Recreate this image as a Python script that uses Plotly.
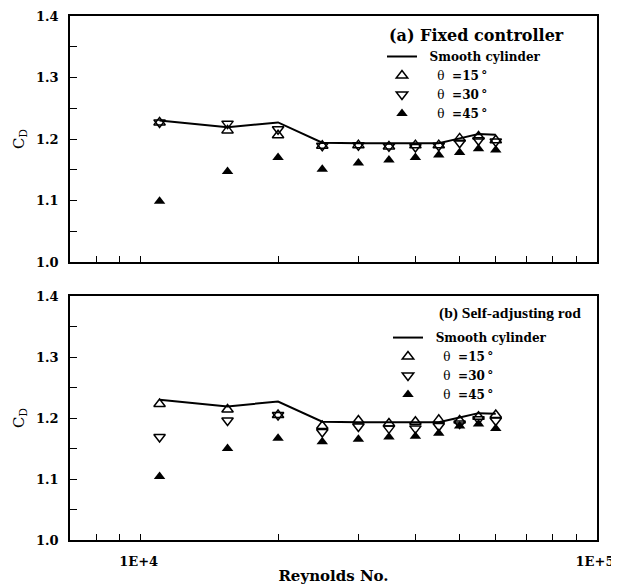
import math
import plotly.graph_objects as go
from plotly.subplots import make_subplots

# ---------------- data ----------------
reynolds = [11000, 15500, 20000, 25000, 30000, 35000, 40000, 45000, 50000, 55000, 60000]
smooth_cd = [1.230, 1.219, 1.227, 1.194, 1.193, 1.193, 1.192, 1.193, 1.201, 1.208, 1.207]

# (a) Fixed controller
fixed_15 = [1.227, 1.214, 1.206, 1.189, 1.190, 1.188, 1.190, 1.190, 1.201, 1.204, 1.198]
fixed_30 = [1.227, 1.225, 1.216, 1.189, 1.190, 1.188, 1.187, 1.189, 1.194, 1.198, 1.196]
fixed_45 = [1.099, 1.147, 1.170, 1.151, 1.161, 1.166, 1.170, 1.174, 1.178, 1.184, 1.182]

# (b) Self-adjusting rod
self_15 = [1.223, 1.214, 1.205, 1.187, 1.196, 1.191, 1.194, 1.197, 1.196, 1.202, 1.205]
self_30 = [1.169, 1.196, 1.205, 1.177, 1.186, 1.183, 1.183, 1.187, 1.191, 1.198, 1.196]
self_45 = [1.104, 1.150, 1.167, 1.161, 1.165, 1.169, 1.170, 1.175, 1.187, 1.190, 1.183]

x_tick_vals = [8000, 9000, 10000, 20000, 30000, 40000, 50000, 60000, 70000, 80000, 90000, 100000]
x_tick_text = ["", "", "1E+4", "", "", "", "", "", "", "", "", "1E+5"]
y_tick_vals = [1.0, 1.05, 1.1, 1.15, 1.2, 1.25, 1.3, 1.35, 1.4]
y_tick_text = ["1.0", "", "1.1", "", "1.2", "", "1.3", "", "1.4"]

panel_titles = ["(a) Fixed controller", "(b) Self-adjusting rod"]
angles = ["15", "30", "45"]

SERIF = "DejaVu Serif"
NB = "\u00a0"

smooth_label = NB * 2 + "<b>Smooth cylinder</b>"
angle_labels = [NB * 4 + "θ" + NB * 2 + "<b>=" + a + "\u2009°</b>" for a in angles]

fig = make_subplots(rows=2, cols=1, vertical_spacing=0.065)

panels = [(fixed_15, fixed_30, fixed_45), (self_15, self_30, self_45)]
for i, (s15, s30, s45) in enumerate(panels):
    row = i + 1
    leg = "legend" if i == 0 else "legend2"
    fig.add_trace(go.Scatter(x=reynolds, y=smooth_cd, mode="lines",
                             line=dict(color="black", width=2),
                             name=smooth_label, legend=leg), row=row, col=1)
    fig.add_trace(go.Scatter(x=reynolds, y=s15, mode="markers",
                             marker=dict(symbol="triangle-up-open", size=10, color="black",
                                         line=dict(width=1.5, color="black")),
                             name=angle_labels[0], legend=leg), row=row, col=1)
    fig.add_trace(go.Scatter(x=reynolds, y=s30, mode="markers",
                             marker=dict(symbol="triangle-down-open", size=10, color="black",
                                         line=dict(width=1.5, color="black")),
                             name=angle_labels[1], legend=leg), row=row, col=1)
    fig.add_trace(go.Scatter(x=reynolds, y=s45, mode="markers",
                             marker=dict(symbol="triangle-up", size=10, color="black"),
                             name=angle_labels[2], legend=leg), row=row, col=1)

xaxis_common = dict(type="log", range=[math.log10(7000), 5], showgrid=False, zeroline=False,
                    showline=True, linecolor="black", linewidth=1.5, mirror=True,
                    ticks="inside", ticklen=6, tickwidth=1, tickcolor="black",
                    tickvals=x_tick_vals, automargin=False,
                    tickfont=dict(family=SERIF, size=13, color="black"))
yaxis_common = dict(range=[1.0, 1.4], showgrid=False, zeroline=False,
                    showline=True, linecolor="black", linewidth=1.5, mirror=True,
                    ticks="inside", ticklen=7, tickwidth=1, tickcolor="black",
                    tickvals=y_tick_vals, ticktext=["<b>" + t + "</b>" if t else "" for t in y_tick_text],
                    tickfont=dict(family=SERIF, size=13, color="black"),
                    ticklabelstandoff=7, automargin=False,
                    title=dict(text="C<sub>D</sub>", font=dict(family=SERIF, size=15, color="black"), standoff=8))

fig.update_xaxes(**xaxis_common)
fig.update_xaxes(ticktext=["" for _ in x_tick_text], row=1, col=1)
fig.update_xaxes(ticktext=["<b>" + t + "</b>" if t else "" for t in x_tick_text], ticklabelstandoff=9,
                 ticklabelshift=-2,
                 title=dict(text="<b>Reynolds No.</b>", font=dict(family=SERIF, size=15, color="black"), standoff=2),
                 row=2, col=1)
fig.update_yaxes(**yaxis_common)
fig.update_yaxes(domain=[0.5305, 1.0], row=1, col=1)
fig.update_yaxes(domain=[0.0, 0.4656], row=2, col=1)

legend_common = dict(xanchor="left", yanchor="top", bgcolor="rgba(0,0,0,0)",
                     font=dict(family=SERIF, size=12, color="black"),
                     tracegroupgap=0, itemwidth=30, traceorder="normal")

fig.update_layout(
    width=619, height=588,
    margin=dict(l=62, r=30, t=8, b=56, autoexpand=False),
    paper_bgcolor="white", plot_bgcolor="white",
    showlegend=True,
    legend=dict(x=0.592, y=0.9504, **legend_common),
    legend2=dict(x=0.6034, y=0.414, **legend_common),
    annotations=[
        dict(text="<b>" + panel_titles[0] + "</b>", xref="paper", yref="paper",
             x=0.6015, y=0.9637, xanchor="left", yanchor="middle", showarrow=False,
             font=dict(family=SERIF, size=16, color="black")),
        dict(text="<b>" + panel_titles[1] + "</b>", xref="paper", yref="paper",
             x=0.6964, y=0.4332, xanchor="left", yanchor="middle", showarrow=False,
             font=dict(family="Liberation Serif", size=15.5, color="black")),
    ],
)

fig.write_html("out.html")
